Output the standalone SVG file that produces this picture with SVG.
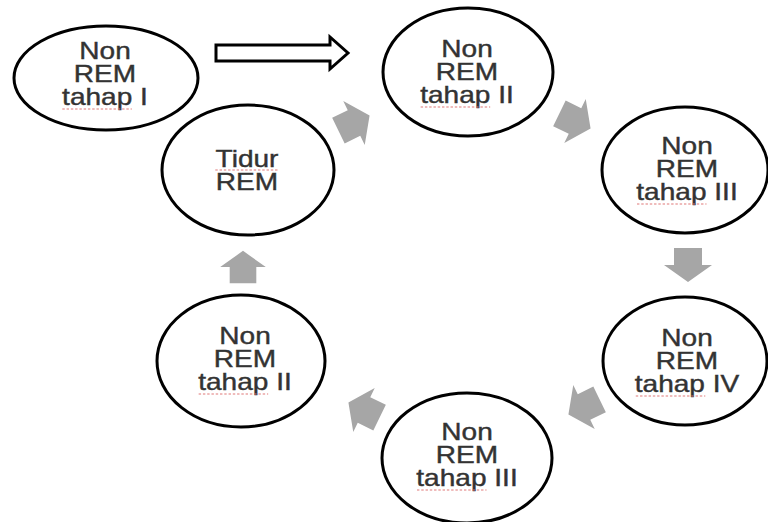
<svg xmlns="http://www.w3.org/2000/svg" xmlns:xlink="http://www.w3.org/1999/xlink" width="768" height="522" viewBox="0 0 768 522">
<style>
.node ellipse{fill:#fff;stroke:#000;stroke-width:3}
.lbl{font-family:"Liberation Sans",Arial,sans-serif;font-size:23px;fill:#333;stroke:#333;stroke-width:0.4;text-anchor:middle}
.sq{stroke:#e07878;stroke-width:1;stroke-dasharray:2 1.5;fill:none}
.ga{fill:#a6a6a6}
.hollow{fill:#fff;stroke:#000;stroke-width:3;stroke-linejoin:miter}
</style>
<defs>
<path id="garrow" d="M-17,-14 H0 V-24 L17,0 L0,24 V14 H-17 Z"/>
</defs>
<rect width="768" height="522" fill="#fff"/>
<g id="connectors">
<path class="hollow" d="M216,45 H330 V37 L348,53 L330,69 V61 H216 Z"/>
<use class="ga" xlink:href="#garrow" transform="translate(354,123) rotate(-26) scale(1.02)"/>
<use class="ga" xlink:href="#garrow" transform="translate(575,121) rotate(26) scale(1.02)"/>
<use class="ga" xlink:href="#garrow" transform="translate(688,265) rotate(90)"/>
<use class="ga" xlink:href="#garrow" transform="translate(584,407) rotate(154) scale(1.02)"/>
<use class="ga" xlink:href="#garrow" transform="translate(364,410) rotate(206) scale(1.02)"/>
<use class="ga" xlink:href="#garrow" transform="translate(243,267) rotate(-90) scale(0.95)"/>
</g>
<g id="n1" class="node">
<ellipse cx="106" cy="78" rx="92" ry="52"/>
<g transform="translate(105 0) scale(1.22 1)">
<text class="lbl"><tspan x="0" y="59">Non</tspan><tspan x="0" y="82">REM</tspan><tspan x="0" y="105">tahap I</tspan></text>
<line class="sq" x1="-35" y1="109" x2="22" y2="109"/>
</g>
</g>
<g id="n2" class="node">
<ellipse cx="468" cy="72" rx="85" ry="64"/>
<g transform="translate(467 0) scale(1.22 1)">
<text class="lbl"><tspan x="0" y="57">Non</tspan><tspan x="0" y="80">REM</tspan><tspan x="0" y="103">tahap II</tspan></text>
<line class="sq" x1="-38" y1="107" x2="19" y2="107"/>
</g>
</g>
<g id="n3" class="node">
<ellipse cx="685" cy="170" rx="83" ry="63"/>
<g transform="translate(687 0) scale(1.22 1)">
<text class="lbl"><tspan x="0" y="154">Non</tspan><tspan x="0" y="177">REM</tspan><tspan x="0" y="200">tahap III</tspan></text>
<line class="sq" x1="-41" y1="204" x2="16" y2="204"/>
</g>
</g>
<g id="n4" class="node">
<ellipse cx="685" cy="361" rx="82" ry="64"/>
<g transform="translate(687 0) scale(1.22 1)">
<text class="lbl"><tspan x="0" y="346">Non</tspan><tspan x="0" y="369">REM</tspan><tspan x="0" y="392">tahap IV</tspan></text>
<line class="sq" x1="-42" y1="396" x2="15" y2="396"/>
</g>
</g>
<g id="n5" class="node">
<ellipse cx="467" cy="458" rx="85" ry="65"/>
<g transform="translate(467 0) scale(1.22 1)">
<text class="lbl"><tspan x="0" y="440">Non</tspan><tspan x="0" y="463">REM</tspan><tspan x="0" y="486">tahap III</tspan></text>
<line class="sq" x1="-41" y1="490" x2="16" y2="490"/>
</g>
</g>
<g id="n6" class="node">
<ellipse cx="241" cy="361" rx="84" ry="66"/>
<g transform="translate(245 0) scale(1.22 1)">
<text class="lbl"><tspan x="0" y="344">Non</tspan><tspan x="0" y="367">REM</tspan><tspan x="0" y="390">tahap II</tspan></text>
<line class="sq" x1="-38" y1="394" x2="19" y2="394"/>
</g>
</g>
<g id="n7" class="node">
<ellipse cx="248" cy="170" rx="86" ry="65"/>
<g transform="translate(247 0) scale(1.22 1)">
<text class="lbl"><tspan x="0" y="167">Tidur</tspan><tspan x="0" y="190">REM</tspan></text>
<line class="sq" x1="-26" y1="170" x2="26" y2="170"/>
</g>
</g>
</svg>
